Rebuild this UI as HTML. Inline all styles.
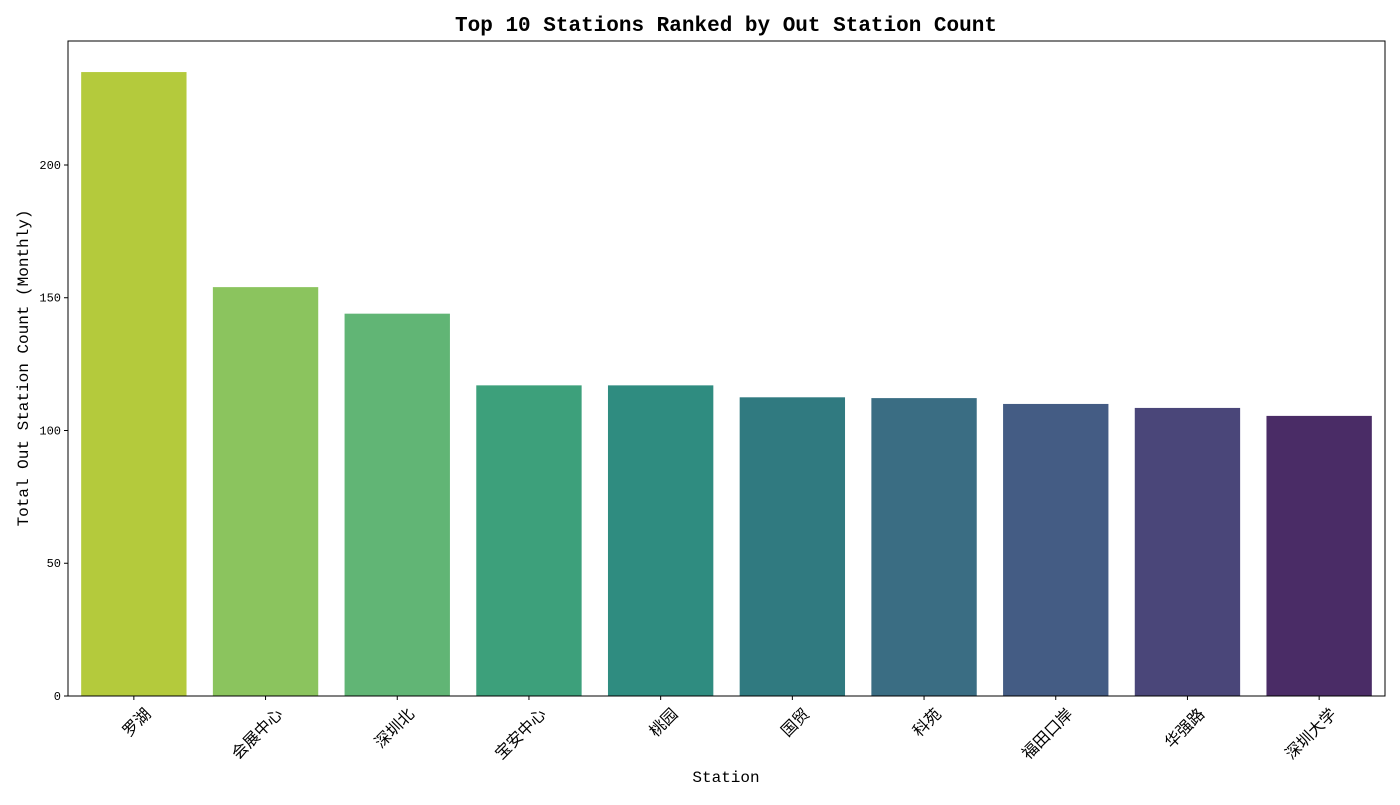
<!DOCTYPE html>
<html><head><meta charset="utf-8"><style>
body{margin:0;background:#fff}
svg text{font-family:"Liberation Mono","WenQuanYi Zen Hei","Noto Sans CJK SC",monospace;fill:#000}
</style></head><body>
<svg id="chart" width="1400" height="800">
<text x="726" y="31" font-size="21" font-weight="bold" text-anchor="middle">Top 10 Stations Ranked by Out Station Count</text>
<g id="bars"></g><g id="xt"></g><g id="yt"></g>
<rect x="68" y="41" width="1317" height="655" fill="none" stroke="#000" stroke-width="1"/>
<text x="726" y="782" font-size="16" text-anchor="middle">Station</text>
<text transform="translate(28,368) rotate(-90)" font-size="16" text-anchor="middle">Total Out Station Count (Monthly)</text>
</svg>
<script>
const categories=["罗湖","会展中心","深圳北","宝安中心","桃园","国贸","科苑","福田口岸","华强路","深圳大学"];
const values=[235,154,144,117,117,112.5,112.2,110,108.5,105.5];
const colors=["#b4ca3c","#8bc45e","#61b575","#3da07b","#2f8c80","#307a80","#3a6d83","#445c84","#4a4679","#4a2c66"];
const yTicks=[0,50,100,150,200];
const L=68,R=1385,T=41,B=696,ymax=246.7;
const ns="http://www.w3.org/2000/svg";
const y=v=>B-(v/ymax)*(B-T);
const slot=(R-L)/categories.length;
const x=i=>L+slot*(i+0.5);
const bars=document.getElementById('bars'),xt=document.getElementById('xt'),yt=document.getElementById('yt');
categories.forEach((c,i)=>{
 const r=document.createElementNS(ns,'rect');
 const w=slot*0.8;
 r.setAttribute('x',x(i)-w/2);r.setAttribute('width',w);
 r.setAttribute('y',y(values[i]));r.setAttribute('height',B-y(values[i]));
 r.setAttribute('fill',colors[i]);
 
 
 bars.appendChild(r);
 const tk=document.createElementNS(ns,'line');
 tk.setAttribute('x1',x(i));tk.setAttribute('x2',x(i));tk.setAttribute('y1',B);tk.setAttribute('y2',B+4);tk.setAttribute('stroke','#000');
 
 
 xt.appendChild(tk);
 const t=document.createElementNS(ns,'text');
 t.textContent=c;t.setAttribute('font-size','16');t.setAttribute('text-anchor','end');
 t.setAttribute('transform',`translate(${x(i)+18},${B+19}) rotate(-45)`);
 
 
 xt.appendChild(t);
});
yTicks.forEach(v=>{
 const tk=document.createElementNS(ns,'line');
 tk.setAttribute('x1',L-4);tk.setAttribute('x2',L);tk.setAttribute('y1',y(v));tk.setAttribute('y2',y(v));tk.setAttribute('stroke','#000');
 
 
 yt.appendChild(tk);
 const t=document.createElementNS(ns,'text');
 t.textContent=v;t.setAttribute('font-size','12');t.setAttribute('text-anchor','end');
 t.setAttribute('x',L-7);t.setAttribute('y',y(v)+4);
 
 
 yt.appendChild(t);
});
</script>
</body></html>
